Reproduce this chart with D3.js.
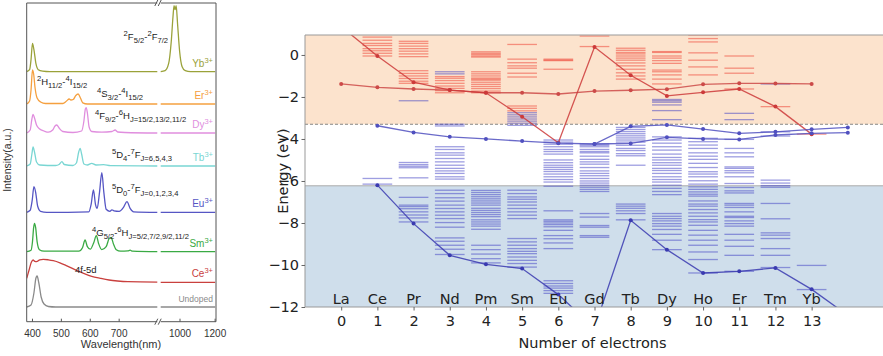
<!DOCTYPE html>
<html>
<head>
<meta charset="utf-8">
<script src="https://cdn.jsdelivr.net/npm/d3@7"></script>
<style>
  body { margin: 0; background: #fff; }
  svg { display: block; }
</style>
</head>
<body>
<svg id="chart" width="883" height="356"></svg>
<script>
// ---------------- Emission spectra (left panel) ----------------
const ionNames = ["Yb", "Er", "Dy", "Tb", "Eu", "Sm", "Ce", "Undoped"];
// vertical stacking offsets of each trace, in a.u.
const traceOffsets = [250, 217.7, 188.7, 155.7, 109.4, 70, 39.4, 14.7];
const wavelengthTicks = [400, 500, 600, 700, 1000, 1200];

// [wavelength (nm), intensity (a.u.)]
const ybSpectrum = [[380,0],[390,2],[395,12],[400,28.4],[405,22],[412,8],[420,2],[435,0.5],[460,0],[832,0],
  [890,0],[915,1],[935,8],[950,30],[960,55],[966,66],[972,62],[978,66],[986,48],[998,20],[1012,5],[1030,1],[1060,0],[1200,0]];
const erSpectrum = [[380,0],[390,3],[395,14],[400,34],[404,30],[409,16],[416,6],[428,2],[445,0.5],[505,0.5],[518,3],
  [527,5],[533,4],[541,4.5],[550,8.5],[558,10],[566,6],[574,1.2],[590,0],[832,0],[890,0],[1200,0]];
const dySpectrum = [[380,0],[392,3],[398,14],[402,18.7],[407,15],[414,8],[425,4],[440,2],[455,0.8],[470,3],[478,7],
  [484,8],[492,5],[505,1.5],[540,0.5],[570,2],[578,12],[583,24],[586,25.3],[590,20],[596,6],[605,1.5],[640,0.8],
  [675,1.5],[686,3],[695,1],[720,0.5],[832,0],[890,0],[1200,0]];
const tbSpectrum = [[380,0],[392,2],[398,12],[402,19],[407,14],[414,4],[425,1],[480,0.5],[492,1.5],[502,4.3],[510,1.5],
  [540,0.5],[552,3],[560,14],[565,17.7],[570,12],[578,2],[590,1],[605,2.7],[620,1],[646,1.3],[670,0.3],[832,0],[890,0],[1200,0]];
const euSpectrum = [[380,0],[392,2],[399,12],[405,25.6],[411,20],[418,6],[428,1],[450,0],[595,0.5],[603,8],[611,22.3],
  [618,8],[624,4],[632,20],[640,39.6],[647,20],[655,3],[668,1],[675,2.5],[682,1.5],[700,1],[715,5],[727,10.6],[738,4],
  [750,0.5],[832,0],[890,0],[1200,0]];
const smSpectrum = [[380,0],[395,1.5],[400,10],[404,24],[407,28.4],[411,24],[416,10],[424,2],[440,0.5],[560,0.5],[573,4],
  [582,11.7],[590,5],[600,2.5],[612,9],[621,16],[629,8],[640,2],[655,5],[665,13],[672,14.4],[680,8],[690,2],[705,0.5],
  [730,0.8],[738,1.5],[746,0.5],[832,0],[890,0],[1200,0]];
const ceSpectrum = [[380,4],[388,12],[396,20],[402,22.3],[408,21],[414,20.6],[425,22.5],[437,23],[455,22.5],[472,21.6],
  [495,19.5],[519,16.5],[545,13],[577,9],[605,6],[635,4],[665,2.3],[694,1.3],[730,0.6],[832,0.2],[890,0],[1200,0]];
const undopedSpectrum = [[380,0],[395,2],[405,14],[412,29],[416,31],[422,24],[430,10],[440,3],[455,0.5],[480,0],
  [832,0],[890,0],[1200,0]];
const spectra = [ybSpectrum, erSpectrum, dySpectrum, tbSpectrum, euSpectrum, smSpectrum, ceSpectrum, undopedSpectrum];

// ---------------- Energy level diagram (right panel) ----------------
const elements = ["La","Ce","Pr","Nd","Pm","Sm","Eu","Gd","Tb","Dy","Ho","Er","Tm","Yb"];
const electronCounts = [0,1,2,3,4,5,6,7,8,9,10,11,12,13];
const energyTicks = [0,-2,-4,-6,-8,-10,-12];
const conductionEdge = -3.3;   // eV
const valenceTop = -6.23;      // eV

// Ln2+ levels (red), one list per electron count
const redLevels = [
  [],
  [0.85,0.7,0.55,0.45,0.3,0.2,0.08,-0.05],
  [0.65,0.55,0.42,0.3,0.18,0.05,-0.08,-0.75,-0.88,-1.0,-1.12,-1.25,-1.35],
  [-1.03,-1.11,-1.22,-1.35,-1.48,-1.59,-1.7,-1.8],
  [0.15,0.08,0.02,-0.05,-0.1,-0.8,-0.9,-1.0,-1.1,-1.15,-1.2,-1.3,-1.4,-1.5,-1.6,-1.72,-1.8],
  [0.5,-0.2,-0.37,-0.52,-0.63,-0.87,-1.05,-2.43,-2.54,-2.66],
  [-0.2,-0.24,-0.27,-0.68],
  [0.9,0.4],
  [0.32,0.22,0.12,0.05,-0.05,-0.15,-0.25,-0.38,-0.52,-0.68,-0.85,-1.0,-1.15],
  [0.16,0.12,-0.05,-0.15,-0.27,-0.4,-0.72,-0.8,-0.95,-1.15,-1.38],
  [0.95,0.78,0.62,0.1,-0.25,-0.57,-0.95],
  [-0.05,-0.63,-0.87,-1.62],
  [-2.46],
  [-3.77]
];
// Ln3+ levels (blue)
const blueLevels = [
  [],
  [-5.88,-6.15],
  [-2.18,-5.12,-5.22,-5.3,-5.37,-5.85,-6.78,-7.15,-7.22,-7.32,-7.47,-7.62,-7.76,-7.95],
  [-0.8,-0.9,-3.3,-3.38,-4.37,-4.5,-4.66,-4.77,-4.93,-5.09,-5.25,-5.4,-5.52,-5.64,-5.8,-5.91,-6.44,-6.6,-6.8,-6.96,
   -7.15,-7.31,-7.47,-7.63,-7.79,-7.98,-8.2,-8.71,-8.87,-9.06,-9.25,-9.5],
  [-6.45,-6.55,-6.65,-6.75,-6.85,-6.95,-7.05,-7.15,-7.3,-7.4,-7.5,-7.6,-7.7,-7.85,-7.95,-8.05,-8.15,-8.3,
   -9.06,-9.27,-9.48,-9.7,-9.9],
  [-2.75,-2.85,-2.95,-3.05,-3.15,-3.25,-3.35,-6.44,-6.6,-6.76,-6.87,-7.0,-7.15,-7.31,-7.47,-7.63,-7.79,
   -8.74,-8.9,-9.06,-9.22,-9.35,-9.46,-9.62,-9.78,-9.93,-10.1],
  [-4.05,-4.15,-4.25,-4.37,-4.5,-4.6,-4.72,-5.0,-5.13,-5.25,-5.35,-5.45,-5.55,-5.67,-5.8,-5.93,-6.05,-6.25,
   -7.42,-7.85,-7.92,-8.0,-8.08,-8.18,-8.35,-8.6,-8.75,-8.95,-9.22,-10.75,-10.88,-11.0,-11.1,-11.22,-11.35],
  [-4.24,-4.3,-4.37,-4.5,-4.6,-4.66,-4.82,-4.97,-5.09,-5.2,-5.36,-5.52,-5.64,-5.75,-5.88,-6.0,-6.1,-6.2,-6.3,
   -6.4,-6.5,-7.55,-7.72,-8.12,-8.2,-8.6,-8.68],
  [-3.45,-3.55,-3.65,-3.75,-3.85,-3.95,-4.05,-4.15,-4.3,-4.45,-4.55,-4.7,-4.8,-5.25,-7.1,-7.2,-7.3,-7.42,-7.55,-7.85],
  [-2.12,-2.18,-2.25,-2.38,-2.65,-3.08,-3.9,-4.05,-4.2,-4.37,-4.53,-4.72,-4.88,-5.0,-5.13,-5.25,-5.4,-5.5,-5.64,
   -5.8,-5.93,-6.05,-6.2,-6.35,-6.5,-6.65,-7.55,-7.68,-7.79,-7.9,-8.03,-8.15,-8.31,-8.54,-8.82,-9.27],
  [-3.97,-4.13,-4.29,-4.45,-4.66,-4.82,-4.97,-5.16,-5.36,-5.56,-5.67,-5.8,-5.99,-6.15,-6.28,-6.4,-6.52,-6.63,
   -6.72,-6.95,-7.1,-7.2,-7.36,-7.52,-7.68,-7.84,-7.95,-8.11,-8.35,-8.58,-8.82,-9.06,-9.38,-9.74,-10.38],
  [-2.78,-3.08,-4.02,-4.45,-4.66,-4.85,-5.33,-5.4,-5.51,-5.61,-5.8,-6.12,-6.31,-6.47,-6.57,-7.07,-7.15,-7.26,
   -7.47,-7.68,-7.74,-7.9,-8.03,-8.15,-8.54,-8.82,-9.11,-9.54,-10.3],
  [-1.38,-3.66,-3.86,-5.96,-6.1,-6.22,-6.3,-7.07,-7.8,-8.47,-8.58,-8.74,-9.22,-9.54,-10.12],
  [-10.02,-11.17]
];

// Binding-energy curves, [electron count, eV]
const ln2Ground4f = [[0,1.35],[1,-0.05],[2,-1.3],[3,-1.67],[4,-1.8],[5,-2.94],[6,-4.18],[7,0.38],[8,-0.97],
  [9,-1.95],[10,-1.78],[11,-1.62],[12,-2.46],[13,-3.77]];
const ln2Lowest5d = [[0,-1.38],[1,-1.54],[2,-1.62],[3,-1.67],[4,-1.8],[5,-1.8],[6,-1.86],[7,-1.72],[8,-1.68],
  [9,-1.63],[10,-1.4],[11,-1.35],[12,-1.36],[13,-1.38]];
const ln3Lowest5d = [[1,-3.37],[2,-3.69],[3,-3.9],[4,-4.0],[5,-4.1],[6,-4.2],[7,-4.24],[8,-3.4],[9,-3.33],
  [10,-3.53],[11,-3.73],[12,-3.66],[13,-3.54],[14,-3.45]];
const ln3Lowest5dHS = [[7,-4.24],[8,-4.21],[9,-3.92],[10,-4.0],[11,-4.02],[12,-3.81],[13,-3.73],[14,-3.7]];
const ln3Ground4f = [[1,-6.2],[2,-8.03],[3,-9.54],[4,-9.97],[5,-10.17],[6,-11.41],[7,-13.0],[8,-7.87],[9,-9.27],
  [10,-10.38],[11,-10.3],[12,-10.14],[13,-11.16],[14,-12.4]];

// ================= drawing =================
const svg = d3.select("#chart");
const leftFont = "'Liberation Sans', Arial, sans-serif";
const rightFont = "'DejaVu Sans', sans-serif";

// text with superscripts / subscripts
function rich(sel, parts, fs, scale = 0.75) {
  let off = 0;
  parts.forEach(([t, k]) => {
    const target = k === "sup" ? -0.4 * fs : k === "sub" ? 0.3 * fs : 0;
    sel.append("tspan").attr("dy", target - off).attr("font-size", k ? fs * scale : fs).text(t);
    off = target;
  });
}

// ---------- left panel ----------
const L = { x0: 26.7, x1: 216, y0: 3, y1: 321.7, gapA: 157.3, gapB: 160.7 };
const specX = d3.scaleLinear().domain([380, 832, 890, 1205]).range([L.x0, L.gapA, L.gapB, L.x1]);
const specY = d3.scaleLinear().domain([0, 318.7]).range([L.y1, L.y0]);
const traceColors = ["#9aa23a", "#f5a03f", "#e08ede", "#79d6d3", "#5656c4", "#3aaa44", "#c9403e", "#8a8a8a"];

svg.append("defs").append("clipPath").attr("id", "specClip")
  .append("rect").attr("x", L.x0).attr("y", L.y0).attr("width", L.x1 - L.x0).attr("height", L.y1 - L.y0);

const left = svg.append("g");
const traces = left.append("g").attr("clip-path", "url(#specClip)");
spectra.forEach((s, i) => {
  const off = traceOffsets[i];
  const line = d3.line().x(d => specX(d[0])).y(d => specY(d[1] + off)).curve(d3.curveMonotoneX);
  [s.filter(d => d[0] <= 832), s.filter(d => d[0] >= 890)].forEach(seg => {
    traces.append("path").attr("d", line(seg)).attr("fill", "none")
      .attr("stroke", traceColors[i]).attr("stroke-width", 1.3);
  });
});

// frame with axis break
const frame = left.append("g").attr("stroke", "#555").attr("stroke-width", 1).attr("fill", "none");
[[L.x0, L.gapA], [L.gapB, L.x1]].forEach(([a, b]) => {
  frame.append("line").attr("x1", a).attr("x2", b).attr("y1", L.y0).attr("y2", L.y0);
  frame.append("line").attr("x1", a).attr("x2", b).attr("y1", L.y1).attr("y2", L.y1);
});
frame.append("line").attr("x1", L.x0).attr("x2", L.x0).attr("y1", L.y0).attr("y2", L.y1);
frame.append("line").attr("x1", L.x1).attr("x2", L.x1).attr("y1", L.y0).attr("y2", L.y1);
[L.y0, L.y1].forEach(y => {
  [L.gapA - 1, L.gapB - 1].forEach(x => {
    frame.append("line").attr("x1", x - 1.5).attr("x2", x + 1.5).attr("y1", y + 3).attr("y2", y - 3);
  });
});

// wavelength axis
const xAxisL = left.append("g");
wavelengthTicks.forEach(t => {
  xAxisL.append("line").attr("x1", specX(t)).attr("x2", specX(t)).attr("y1", L.y1).attr("y2", L.y1 - 3)
    .attr("stroke", "#555");
  xAxisL.append("text").attr("x", specX(t)).attr("y", 337).attr("text-anchor", "middle")
    .attr("font-family", leftFont).attr("font-size", 10).attr("fill", "#333").text(t);
});
left.append("text").attr("x", 121).attr("y", 348).attr("text-anchor", "middle")
  .attr("font-family", leftFont).attr("font-size", 11).attr("fill", "#333").text("Wavelength(nm)");
left.append("text").attr("transform", "translate(11,160) rotate(-90)").attr("text-anchor", "middle")
  .attr("font-family", leftFont).attr("font-size", 10.5).attr("fill", "#333").text("Intensity(a.u.)");

// ion labels
ionNames.forEach((n, i) => {
  const t = left.append("text").attr("x", 213).attr("y", specY(traceOffsets[i]) - 5)
    .attr("text-anchor", "end").attr("font-family", leftFont).attr("fill", traceColors[i]);
  if (n === "Undoped") t.attr("font-size", 8.5).text(n);
  else rich(t, [[n, ""], ["3+", "sup"]], 10);
});

// transition annotations
const annotations = [
  { x: 168, y: 40, anchor: "end", parts: [["2","sup"],["F",""],["5/2","sub"],["-",""],["2","sup"],["F",""],["7/2","sub"]] },
  { x: 37, y: 85, parts: [["2","sup"],["H",""],["11/2","sub"],["-",""],["4","sup"],["I",""],["15/2","sub"]] },
  { x: 97, y: 97, parts: [["4","sup"],["S",""],["3/2","sub"],["-",""],["4","sup"],["I",""],["15/2","sub"]] },
  { x: 95, y: 119, parts: [["4","sup"],["F",""],["9/2","sub"],["-",""],["6","sup"],["H",""],["J=15/2,13/2,11/2","sub"]] },
  { x: 112, y: 158, parts: [["5","sup"],["D",""],["4","sub"],["-",""],["7","sup"],["F",""],["J=6,5,4,3","sub"]] },
  { x: 112, y: 193, parts: [["5","sup"],["D",""],["0","sub"],["-",""],["7","sup"],["F",""],["J=0,1,2,3,4","sub"]] },
  { x: 92, y: 236, parts: [["4","sup"],["G",""],["5/2","sub"],["-",""],["6","sup"],["H",""],["J=5/2,7/2,9/2,11/2","sub"]] },
  { x: 75, y: 273, parts: [["4f-5d",""]] }
];
annotations.forEach(a => {
  const t = left.append("text").attr("x", a.x).attr("y", a.y).attr("text-anchor", a.anchor || "start")
    .attr("font-family", leftFont).attr("fill", "#222");
  rich(t, a.parts, 9.5, 0.8);
});

// ---------- right panel ----------
const xE = d3.scaleLinear().domain([-1, 15]).range([305, 884]);
const yE = d3.scaleLinear().domain([-12, 0.95]).range([307, 35]);
const right = svg.append("g");

right.append("defs").append("clipPath").attr("id", "vrbeClip")
  .append("rect").attr("x", xE(-1)).attr("y", yE(0.95)).attr("width", xE(15) - xE(-1)).attr("height", yE(-12) - yE(0.95));

// conduction band and valence band areas
right.append("rect").attr("x", xE(-1)).attr("y", yE(0.95)).attr("width", xE(15) - xE(-1))
  .attr("height", yE(conductionEdge) - yE(0.95)).attr("fill", "#fce3cd");
right.append("rect").attr("x", xE(-1)).attr("y", yE(valenceTop)).attr("width", xE(15) - xE(-1))
  .attr("height", yE(-12) - yE(valenceTop)).attr("fill", "#cfdeeb");
right.append("line").attr("x1", xE(-1)).attr("x2", xE(15)).attr("y1", yE(conductionEdge)).attr("y2", yE(conductionEdge))
  .attr("stroke", "#888").attr("stroke-dasharray", "3,2").attr("stroke-width", 1);
right.append("line").attr("x1", xE(-1)).attr("x2", xE(15)).attr("y1", yE(valenceTop)).attr("y2", yE(valenceTop))
  .attr("stroke", "#aaa").attr("stroke-width", 1);

const plot = right.append("g").attr("clip-path", "url(#vrbeClip)");
const halfW = 0.41;
function drawLevels(levels, color) {
  levels.forEach((list, i) => {
    plot.append("g").selectAll("line").data(list).join("line")
      .attr("x1", xE(electronCounts[i] - halfW)).attr("x2", xE(electronCounts[i] + halfW))
      .attr("y1", d => yE(d)).attr("y2", d => yE(d))
      .attr("stroke", color).attr("stroke-width", 1.3);
  });
}
drawLevels(redLevels, "rgba(238,72,58,0.55)");
drawLevels(blueLevels, "rgba(62,62,196,0.5)");

function drawCurve(data, color) {
  const line = d3.line().x(d => xE(d[0])).y(d => yE(d[1]));
  plot.append("path").attr("d", line(data)).attr("fill", "none").attr("stroke", color)
    .attr("stroke-width", 1.3).attr("stroke-opacity", 0.85);
  plot.append("g").selectAll("circle").data(data).join("circle")
    .attr("cx", d => xE(d[0])).attr("cy", d => yE(d[1])).attr("r", 2).attr("fill", color);
}
drawCurve(ln2Lowest5d, "#cc4a48");
drawCurve(ln2Ground4f, "#cc3a3a");
drawCurve(ln3Lowest5d, "#5050bf");
drawCurve(ln3Lowest5dHS, "#5050bf");
drawCurve(ln3Ground4f, "#3a3ab0");

// spines
right.append("line").attr("x1", xE(-1)).attr("x2", xE(15)).attr("y1", yE(0.95)).attr("y2", yE(0.95)).attr("stroke", "#999");
right.append("line").attr("x1", xE(-1)).attr("x2", xE(15)).attr("y1", yE(-12)).attr("y2", yE(-12)).attr("stroke", "#999");
right.append("line").attr("x1", xE(-1)).attr("x2", xE(-1)).attr("y1", yE(0.95)).attr("y2", yE(-12)).attr("stroke", "#999");

// element symbols inside the plot
right.append("g").selectAll("text").data(elements).join("text")
  .attr("x", (d, i) => xE(electronCounts[i])).attr("y", 304).attr("text-anchor", "middle")
  .attr("font-family", rightFont).attr("font-size", 14.5).attr("fill", "#222").text(d => d);

// axes
const xAxis = right.append("g").attr("transform", `translate(0,${yE(-12)})`)
  .call(d3.axisBottom(xE).tickValues(electronCounts).tickSize(3.5).tickPadding(5.5).tickFormat(d3.format("d")));
const yAxis = right.append("g").attr("transform", `translate(${xE(-1)},0)`)
  .call(d3.axisLeft(yE).tickValues(energyTicks).tickSize(3.5).tickPadding(2.5).tickFormat(d3.format("d")));
[xAxis, yAxis].forEach(a => {
  a.select(".domain").remove();
  a.selectAll(".tick line").attr("stroke", "#666");
  a.selectAll("text").attr("font-family", rightFont).attr("font-size", 14.5).attr("fill", "#222");
});

right.append("text").attr("x", 592.5).attr("y", 347.5).attr("text-anchor", "middle")
  .attr("font-family", rightFont).attr("font-size", 14.5).attr("fill", "#222").text("Number of electrons");
right.append("text").attr("transform", `translate(288,${(yE(0.95) + yE(-12)) / 2}) rotate(-90)`)
  .attr("text-anchor", "middle").attr("font-family", rightFont).attr("font-size", 14.5).attr("fill", "#222")
  .text("Energy (eV)");
</script>
</body>
</html>
